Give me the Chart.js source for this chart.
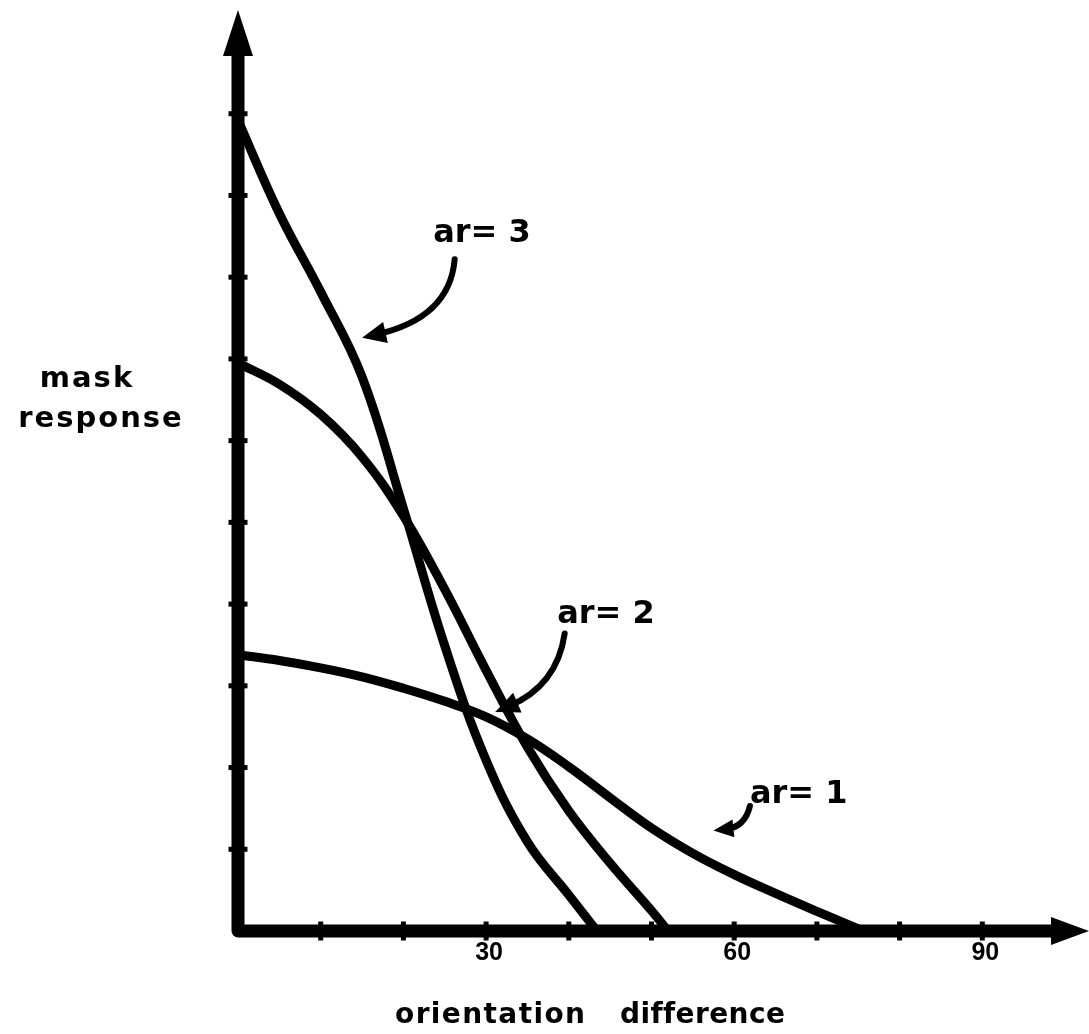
<!DOCTYPE html>
<html>
<head>
<meta charset="utf-8">
<title>mask response vs orientation difference</title>
<script src="https://cdn.jsdelivr.net/npm/chart.js@4.4.0/dist/chart.umd.min.js"></script>
<style>
    body { margin: 0; background: #fff; }
    #wrap { width: 1089px; height: 1034px; position: relative; }
</style>
</head>
<body>
<div id="wrap"><canvas id="chart"></canvas></div>
<script>
// Curves: orientation difference (deg) against mask response
const ar3X = [0, 5, 10, 15, 20, 25, 30, 35, 40, 43.4];
const ar3Y = [9.92, 8.78, 7.82, 6.78, 5.17, 3.49, 2.09, 1.09, 0.44, 0];

const ar2X = [0, 5, 10, 15, 20, 25, 30, 35, 40, 45, 50, 52];
const ar2Y = [6.95, 6.69, 6.32, 5.80, 5.08, 4.18, 3.19, 2.25, 1.47, 0.83, 0.25, 0];

const ar1X = [0, 5, 10, 15, 20, 25, 30, 35, 40, 45, 50, 55, 60, 65, 70, 75.6];
const ar1Y = [3.38, 3.31, 3.22, 3.11, 2.97, 2.81, 2.62, 2.35, 2.01, 1.63, 1.26, 0.95, 0.69, 0.46, 0.24, 0];

// Axis tick marks and the labelled ones
const xTickMarks = [10, 20, 30, 40, 50, 60, 70, 80, 90];
const xTickLabels = [30, 60, 90];
const yTickMarks = [1, 2, 3, 4, 5, 6, 7, 8, 9, 10];

const INK = '#000';
const BOLD = '"DejaVu Sans", "Liberation Sans", sans-serif';
const DIGITS = '"Liberation Sans", Arial, sans-serif';

// Curve labels with their pointer arrows (in data units)
const callouts = [
    { text: 'ar= 3', x: 23.6, y: 8.43, from: [26.2, 8.22], ctrl: [25.6, 7.50], to: [15.0, 7.26], head: 24 },
    { text: 'ar= 2', x: 38.6, y: 3.77, from: [39.5, 3.64], ctrl: [38.6, 3.00], to: [31.1, 2.68], head: 24 },
    { text: 'ar= 1', x: 61.9, y: 1.57, from: [61.9, 1.53], ctrl: [61.3, 1.27], to: [57.5, 1.23], head: 20 }
];

function toPoints(xs, ys) {
    return xs.map((x, i) => ({ x: x, y: ys[i] }));
}

function arrowHead(ctx, fx, fy, tx, ty, len, half) {
    const a = Math.atan2(ty - fy, tx - fx);
    ctx.beginPath();
    ctx.moveTo(tx, ty);
    ctx.lineTo(tx - len * Math.cos(a) + half * Math.sin(a), ty - len * Math.sin(a) - half * Math.cos(a));
    ctx.lineTo(tx - len * Math.cos(a) - half * Math.sin(a), ty - len * Math.sin(a) + half * Math.cos(a));
    ctx.closePath();
    ctx.fill();
}

// Thick axes with arrows, tick nubs, titles and callouts
const axesPlugin = {
    id: 'axes',
    afterDraw(chart) {
        const ctx = chart.ctx;
        const xs = chart.scales.x;
        const ys = chart.scales.y;
        const x0 = xs.getPixelForValue(0);
        const y0 = ys.getPixelForValue(0);
        const yTip = ys.getPixelForValue(11.27);
        const xTip = xs.getPixelForValue(102.9);

        ctx.save();
        ctx.fillStyle = INK;
        ctx.strokeStyle = INK;

        // axis lines
        ctx.lineWidth = 13;
        ctx.lineJoin = 'round';
        ctx.beginPath();
        ctx.moveTo(x0, yTip + 40);
        ctx.lineTo(x0, y0);
        ctx.lineTo(xTip - 32, y0);
        ctx.stroke();

        arrowHead(ctx, x0, y0, x0, yTip, 46, 15);
        arrowHead(ctx, x0, y0, xTip, y0, 38, 14);

        // tick nubs
        yTickMarks.forEach(v => {
            const py = ys.getPixelForValue(v);
            ctx.fillRect(x0 - 9.5, py - 2.5, 19, 5);
        });
        xTickMarks.forEach(v => {
            const px = xs.getPixelForValue(v);
            ctx.fillRect(px - 2.5, y0 - 9.5, 5, 19);
        });

        // tick labels
        ctx.font = 'bold 25px ' + DIGITS;
        ctx.textAlign = 'center';
        ctx.textBaseline = 'alphabetic';
        xTickLabels.forEach(v => {
            ctx.fillText(String(v), xs.getPixelForValue(v) + 3, y0 + 29);
        });

        // axis titles
        ctx.font = 'bold 29px ' + BOLD;
        ctx.letterSpacing = '2px';
        ctx.fillText('mask', 87, 387);
        ctx.fillText('response', 101, 427);

        ctx.textAlign = 'left';
        ctx.font = 'bold 28px ' + BOLD;
        ctx.letterSpacing = '1.4px';
        ctx.fillText('orientation', 395, 1023);
        // non-zero spacing keeps the two f's as separate letters
        ctx.letterSpacing = '0.4px';
        ctx.fillText('difference', 620, 1023);

        // callouts
        ctx.font = 'bold 32px ' + BOLD;
        ctx.letterSpacing = '0px';
        ctx.lineWidth = 6;
        ctx.lineCap = 'round';
        callouts.forEach(c => {
            ctx.fillText(c.text, xs.getPixelForValue(c.x), ys.getPixelForValue(c.y));
            const fx = xs.getPixelForValue(c.from[0]), fy = ys.getPixelForValue(c.from[1]);
            const cx = xs.getPixelForValue(c.ctrl[0]), cy = ys.getPixelForValue(c.ctrl[1]);
            const tx = xs.getPixelForValue(c.to[0]), ty = ys.getPixelForValue(c.to[1]);
            // stop the shaft short of the tip so the head stays sharp
            const a = Math.atan2(ty - cy, tx - cx);
            const back = c.head * 0.6;
            ctx.beginPath();
            ctx.moveTo(fx, fy);
            ctx.quadraticCurveTo(cx, cy, tx - back * Math.cos(a), ty - back * Math.sin(a));
            ctx.stroke();
            arrowHead(ctx, cx, cy, tx, ty, c.head, c.head * 0.45);
        });

        ctx.restore();
    }
};

const curveStyle = {
    borderColor: INK,
    borderWidth: 9,
    pointRadius: 0,
    fill: false,
    tension: 0.4,
    borderCapStyle: 'round',
    borderJoinStyle: 'round',
    clip: false
};

new Chart(document.getElementById('chart'), {
    type: 'line',
    data: {
        datasets: [
            Object.assign({ label: 'ar = 3', data: toPoints(ar3X, ar3Y) }, curveStyle),
            Object.assign({ label: 'ar = 2', data: toPoints(ar2X, ar2Y) }, curveStyle),
            Object.assign({ label: 'ar = 1', data: toPoints(ar1X, ar1Y) }, curveStyle)
        ]
    },
    options: {
        responsive: true,
        maintainAspectRatio: false,
        animation: false,
        layout: { padding: { left: 238, right: 24, top: 32, bottom: 103 } },
        plugins: {
            legend: { display: false },
            tooltip: { enabled: false }
        },
        scales: {
            x: { type: 'linear', min: 0, max: 100, display: false },
            y: { type: 'linear', min: 0, max: 11, display: false }
        }
    },
    plugins: [axesPlugin]
});
</script>
</body>
</html>
